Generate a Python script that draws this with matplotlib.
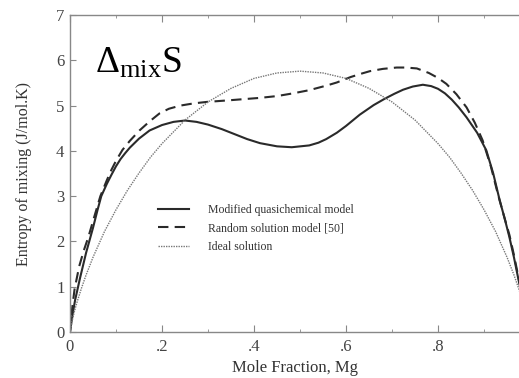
import matplotlib
matplotlib.use("Agg")
import matplotlib.pyplot as plt
from matplotlib.ticker import FixedLocator

# Modified quasichemical model
x_mqm = [0, 0.005, 0.011, 0.022, 0.035, 0.05, 0.06, 0.068, 0.08, 0.09, 0.1, 0.11,
         0.12, 0.13, 0.15, 0.173, 0.2, 0.225, 0.25, 0.275, 0.3, 0.33, 0.355, 0.385,
         0.413, 0.45, 0.482, 0.52, 0.54, 0.557, 0.58, 0.6, 0.63, 0.66, 0.684, 0.705,
         0.724, 0.745, 0.767, 0.785, 0.8, 0.815, 0.83, 0.845, 0.862, 0.885, 0.905,
         0.92, 0.934, 0.945, 0.955, 0.965, 0.975, 1.0]
s_mqm = [0, 0.35, 0.7, 1.2, 1.75, 2.3, 2.7, 3.0, 3.27, 3.47, 3.66, 3.82,
         3.95, 4.07, 4.27, 4.45, 4.57, 4.64, 4.67, 4.64, 4.58, 4.48, 4.38, 4.26,
         4.17, 4.10, 4.08, 4.12, 4.18, 4.26, 4.40, 4.55, 4.80, 5.01, 5.15, 5.26,
         5.35, 5.42, 5.46, 5.43, 5.37, 5.27, 5.13, 4.96, 4.74, 4.40, 4.01,
         3.50, 2.91, 2.50, 2.10, 1.65, 1.15, 0]

# Random solution model [50]
x_rsm = [0, 0.005, 0.01, 0.02, 0.03, 0.04, 0.05, 0.066, 0.08, 0.09, 0.1, 0.114,
         0.13, 0.151, 0.173, 0.195, 0.215, 0.24, 0.27, 0.297, 0.35, 0.413, 0.45,
         0.485, 0.52, 0.557, 0.58, 0.61, 0.635, 0.652, 0.68, 0.71, 0.73, 0.754,
         0.78, 0.8, 0.818, 0.84, 0.862, 0.88, 0.897, 0.915, 0.93, 0.945, 0.955,
         0.965, 0.975, 1.0]
s_rsm = [0, 0.55, 0.95, 1.45, 1.8, 2.1, 2.45, 3.0, 3.35, 3.58, 3.78, 4.02,
         4.22, 4.45, 4.65, 4.83, 4.93, 5.0, 5.05, 5.08, 5.12, 5.17, 5.21,
         5.27, 5.34, 5.44, 5.51, 5.63, 5.71, 5.76, 5.81, 5.84, 5.84, 5.82,
         5.72, 5.61, 5.48, 5.25, 4.96, 4.62, 4.23, 3.65, 3.05, 2.5, 2.15,
         1.7, 1.2, 0]

# Ideal solution
x_ide = [0, 0.005, 0.01, 0.015, 0.025, 0.035, 0.05, 0.075, 0.1, 0.125, 0.15, 0.175,
         0.2, 0.25, 0.3, 0.35, 0.4, 0.45, 0.5, 0.55, 0.6, 0.65, 0.7, 0.75, 0.8,
         0.825, 0.85, 0.875, 0.9, 0.925, 0.95, 0.965, 0.975, 0.985, 0.99, 0.995, 1.0]
s_ide = [0, 0.26, 0.47, 0.65, 0.97, 1.26, 1.65, 2.22, 2.70, 3.13, 3.51, 3.86,
         4.16, 4.68, 5.08, 5.38, 5.60, 5.72, 5.76, 5.72, 5.60, 5.38, 5.08, 4.68, 4.16,
         3.86, 3.51, 3.13, 2.70, 2.22, 1.65, 1.26, 0.97, 0.65, 0.47, 0.26, 0]

labels = ["Modified quasichemical model", "Random solution model [50]", "Ideal solution"]
xticks = [0, 0.2, 0.4, 0.6, 0.8]
xticklabels = ["0", ".2", ".4", ".6", ".8"]
xminor = [0.1, 0.3, 0.5, 0.7, 0.9]
yticks = [0, 1, 2, 3, 4, 5, 6, 7]

plt.rcParams['font.family'] = ['Liberation Serif', 'DejaVu Serif']
plt.rcParams['mathtext.fontset'] = 'custom'
plt.rcParams['mathtext.rm'] = 'Liberation Serif'
plt.rcParams['mathtext.it'] = 'Liberation Serif:italic'
plt.rcParams['mathtext.bf'] = 'Liberation Serif:bold'

fig = plt.figure(figsize=(5.19, 3.78), dpi=100)
ax = fig.add_axes([70/519, 46/378, 449/519, 317/378])

ax.plot(x_mqm, s_mqm, color='#2a2a2a', lw=1.5, label=labels[0])
ax.plot(x_rsm, s_rsm, color='#2a2a2a', lw=1.5, ls=(0, (5, 3)), label=labels[1])
ax.plot(x_ide, s_ide, color='#777777', lw=1.0, ls=(0, (1, 0.8)), label=labels[2])

ax.set_xlim(0, 0.976)
ax.set_ylim(0, 7)
ax.set_xticks(xticks)
ax.set_xticklabels(xticklabels)
ax.xaxis.set_minor_locator(FixedLocator(xminor))
ax.set_yticks(yticks)

spc = '#888888'
for side in ['left', 'bottom', 'top']:
    ax.spines[side].set_color(spc)
    ax.spines[side].set_linewidth(1.0)
ax.spines['right'].set_visible(False)

ax.tick_params(axis='x', which='both', direction='in', top=True, bottom=True,
               color=spc, labelsize=12, labelcolor='#444444', pad=5)
ax.tick_params(axis='x', which='major', length=5)
ax.tick_params(axis='x', which='minor', length=2.5)
ax.tick_params(axis='y', which='major', direction='in', length=4, color=spc,
               labelsize=12, labelcolor='#444444', pad=4)

ax.set_xlabel("Mole Fraction, Mg", fontsize=12, color='#333333', labelpad=4)
ax.set_ylabel("Entropy of mixing (J/mol.K)", fontsize=11.5, color='#333333', labelpad=17)

ax.text(0.054, 5.72, r'$\Delta_{\mathrm{mix}}\mathrm{S}$', fontsize=27,
        color='black', va='baseline', ha='left')

leg = ax.legend(loc='upper left', bbox_to_anchor=(158/519, (378-204)/378),
                bbox_transform=fig.transFigure, frameon=False, fontsize=8.5,
                handlelength=2.6, handletextpad=1.6, labelspacing=0.55,
                borderpad=0, borderaxespad=0)
for t in leg.get_texts():
    t.set_color('#333333')

fig.savefig("out.png", dpi=100)
